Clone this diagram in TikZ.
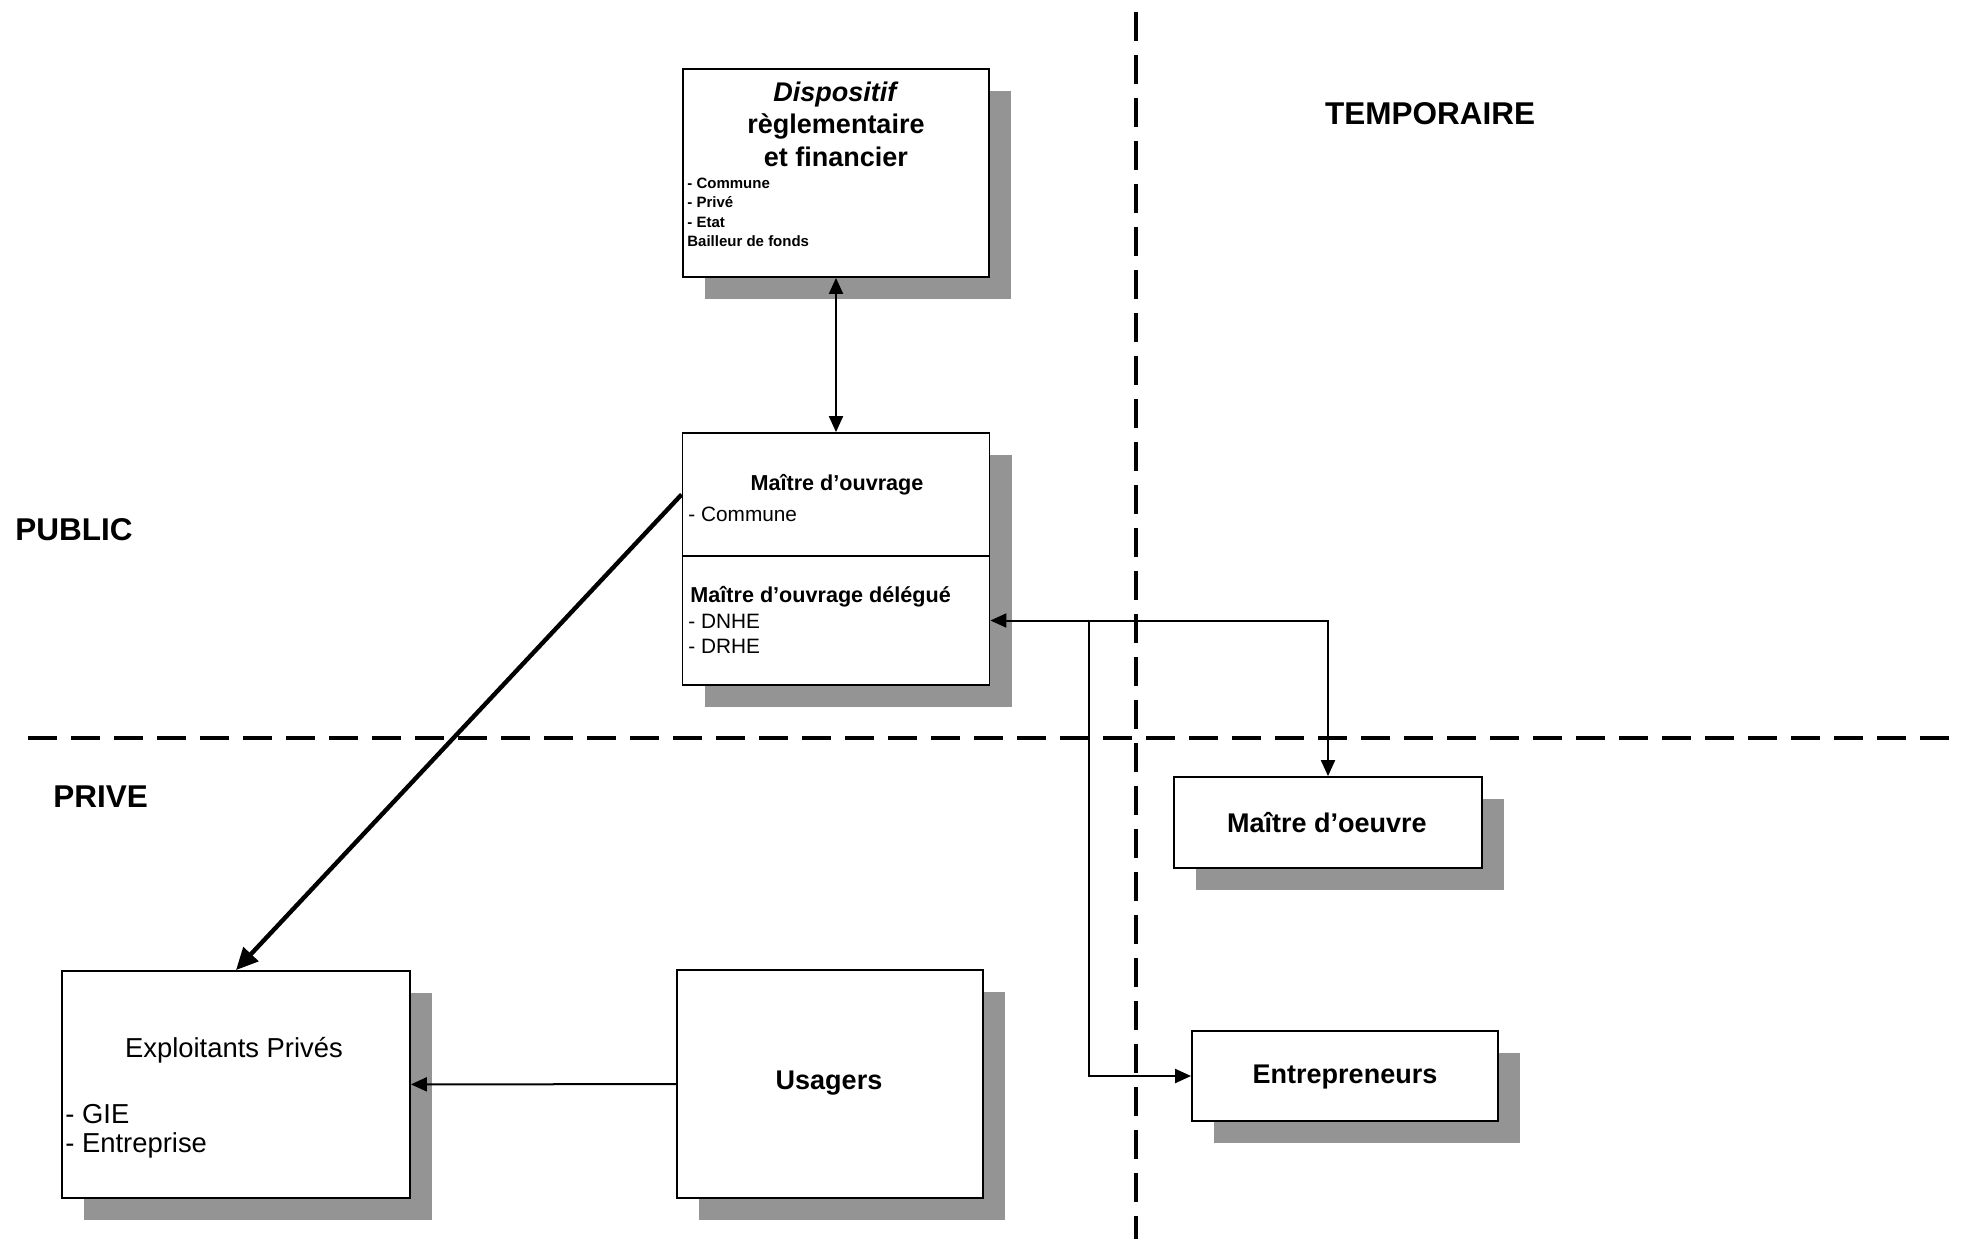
\documentclass[tikz,border=0pt]{standalone}
\usepackage{fontspec}
\setmainfont{Liberation Sans}
\usetikzlibrary{arrows.meta,shadows}

\begin{document}
\begin{tikzpicture}[x=0.5pt, y=-0.5pt,
  boite/.style={draw, line width=0.9pt, fill=white, inner sep=0pt,
    drop shadow={shadow xshift=11pt, shadow yshift=-11pt, fill=black!42, opacity=1}},
  zone/.style={inner sep=0pt, font=\fontsize{15.75pt}{18pt}\selectfont\bfseries},
  titre/.style={inner sep=0pt, align=center, font=\fontsize{13.5pt}{16.25pt}\selectfont\bfseries},
  gras/.style={inner sep=0pt, font=\fontsize{13.5pt}{16pt}\selectfont\bfseries},
  normal/.style={inner sep=0pt, align=left, font=\fontsize{13.7pt}{14.5pt}\selectfont},
  moyen/.style={inner sep=0pt, font=\fontsize{10.8pt}{13pt}\selectfont\bfseries},
  liste/.style={inner sep=0pt, align=left, anchor=west, font=\fontsize{10.4pt}{12.5pt}\selectfont},
  petit/.style={inner sep=0pt, align=left, anchor=west, font=\fontsize{7.5pt}{9.75pt}\selectfont\bfseries},
  fleche/.style={line width=1pt, -{Triangle[length=8pt,width=7pt]}},
  grossefleche/.style={line width=2.2pt, -{Triangle[length=11pt,width=10pt]}},
  separation/.style={line width=2pt, dash pattern=on 14.5pt off 7pt}]
\useasboundingbox (0,0) rectangle (1967,1239);

% Separations des zones
\draw[separation] (28,738) -- (1960,738);
\draw[separation] (1136,12) -- (1136,1239);
\node[zone] (temporaire) at (1430,114) {TEMPORAIRE};
\node[zone, anchor=west] (public) at (15,530) {PUBLIC};
\node[zone, anchor=west] (prive) at (53,797) {PRIVE};

% Dispositif
\node[boite, minimum width=153pt, minimum height=104pt] (disp) at (836,173) {};
\node[titre] (disp-titre) at (836,124) {\textit{Dispositif}\\règlementaire\\et financier};
\node[petit] (disp-liste) at (687,212.5) {- Commune\\- Privé\\- Etat\\Bailleur de fonds};

% Maitre d'ouvrage et delegue
\node[boite, minimum width=153.5pt, minimum height=61.5pt] (mo) at (836,494.5) {};
\node[boite, minimum width=153.5pt, minimum height=64.5pt] (mod) at (836,620.5) {};
\node[moyen] (mo-titre) at (837,485) {Maître d'ouvrage};
\node[liste] (mo-liste) at (688,514) {- Commune};
\node[moyen, anchor=west] (mod-titre) at (690,597) {Maître d'ouvrage délégué};
\node[liste] (mod-liste) at (688,634) {- DNHE\\- DRHE};

% Temporaire
\node[boite, minimum width=154pt, minimum height=45.5pt] (moe) at (1328,822.5) {};
\node[gras] (moe-titre) at (1327,823) {Maître d'oeuvre};
\node[boite, minimum width=153pt, minimum height=45pt] (ent) at (1345,1076) {};
\node[gras] (ent-titre) at (1345,1077) {Entrepreneurs};

% Prive
\node[boite, minimum width=174pt, minimum height=113.5pt] (expl) at (236,1084.5) {};
\node[normal] (expl-titre) at (234,1050) {Exploitants Privés};
\node[normal, anchor=west] (expl-liste) at (65,1131) {- GIE\\- Entreprise};
\node[boite, minimum width=153pt, minimum height=114pt] (usa) at (830,1084) {};
\node[gras] (usa-titre) at (829,1083) {Usagers};

% Liaisons
\draw[fleche, {Triangle[length=8pt,width=7pt]}-{Triangle[length=8pt,width=7pt]}] (disp) -- (mo);
\draw[grossefleche] (mo.west) -- (expl.north);
\draw[fleche] (usa) -- (expl);
\coordinate (jonction) at ([xshift=49.5pt]mod.east);
\draw[fleche] (jonction) -- (mod.east);
\draw[fleche] (jonction) -| (moe.north);
\draw[fleche] (jonction) |- (ent.west);

\end{tikzpicture}
\end{document}
